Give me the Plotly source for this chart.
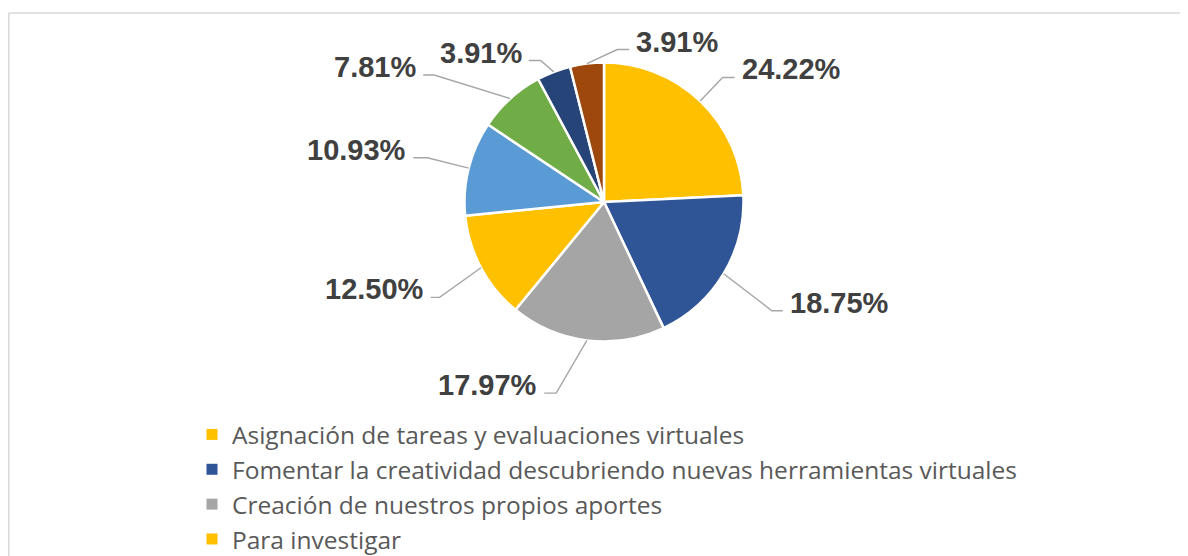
import math
import plotly.graph_objects as go

# ---- data ----
labels = [
    "Asignación de tareas y evaluaciones virtuales",
    "Fomentar la creatividad descubriendo nuevas herramientas virtuales",
    "Creación de nuestros propios aportes",
    "Para investigar",
    "Comunicación con docentes",
    "Trabajo colaborativo",
    "Entretenimiento",
    "Otros",
]
values = [24.22, 18.75, 17.97, 12.50, 10.93, 7.81, 3.91, 3.91]
colors = ["#FFC000", "#2F5597", "#A5A5A5", "#FFC000", "#5B9BD5", "#70AD47", "#264478", "#9E480E"]
legend_shown = 4  # only first four legend entries are visible in the frame

# ---- geometry / style ----
W, H = 1188, 556
OFF = 8  # default page body margin
CX, CY, R = 604, 202, 139.5
knee_r = [172, 200, 197, 190, 182, 212, 155, 153]
knee_da = [0, 2, 7, -2, 0, -11, -3, 12]
hseg = [12, 11, 12, 9, 14, 11, 12, 12]
tgap = 5

def px(x):
    return (x - OFF) / W

def py(y):
    return 1 - (y - OFF) / H

fig = go.Figure()
fig.add_trace(go.Pie(
    labels=labels, values=values, sort=False, direction="clockwise", rotation=0,
    marker=dict(colors=colors, line=dict(color="white", width=2.5)),
    textinfo="none", hoverinfo="label+percent", showlegend=False,
    domain=dict(x=[px(CX - R), px(CX + R)], y=[py(CY + R), py(CY - R)]),
))

# legend entries (dummy traces)
for name, col in zip(labels[:legend_shown], colors[:legend_shown]):
    fig.add_trace(go.Scatter(x=[None], y=[None], mode="markers", name=name,
                             marker=dict(symbol="square", size=11, color=col)))

total = sum(values)
cum = 0
annotations = []
shapes = []
for i, v in enumerate(values):
    mid = (cum + v / 2) / total * 360
    cum += v
    a = math.radians(mid)
    sx, sy = CX + R * math.sin(a), CY - R * math.cos(a)
    ka = math.radians(mid + knee_da[i])
    kx, ky = CX + knee_r[i] * math.sin(ka), CY - knee_r[i] * math.cos(ka)
    right = math.sin(ka) > 0
    ex = kx + hseg[i] if right else kx - hseg[i]
    shapes.append(dict(type="path", xref="paper", yref="paper",
                       path=f"M {px(sx)},{py(sy)} L {px(kx)},{py(ky)} L {px(ex)},{py(ky)}",
                       line=dict(color="#A6A6A6", width=1.4)))
    annotations.append(dict(
        x=px(ex + tgap if right else ex - tgap), y=py(ky - 8),
        xref="paper", yref="paper", xanchor="left" if right else "right", yanchor="middle",
        text=f"<b>{v:.2f}%</b>", showarrow=False,
        font=dict(family="Liberation Sans, Arial", size=29, color="#404040")))

# chart-area border (left and top edges visible)
bx = OFF + 0.8
shapes.append(dict(type="line", xref="paper", yref="paper", x0=px(bx), x1=px(bx), y0=py(13), y1=py(H + 20),
                   line=dict(color="#D9D9D9", width=1.5)))
shapes.append(dict(type="line", xref="paper", yref="paper", x0=px(bx), x1=px(W + 20), y0=py(13), y1=py(13),
                   line=dict(color="#D9D9D9", width=1.5)))

fig.update_layout(
    width=W, height=H, margin=dict(l=0, r=0, t=0, b=0),
    paper_bgcolor="white", plot_bgcolor="white",
    xaxis=dict(visible=False), yaxis=dict(visible=False),
    shapes=shapes, annotations=annotations,
    showlegend=True,
    legend=dict(x=px(192), y=py(412), xanchor="left", yanchor="top", orientation="v",
                font=dict(family="Open Sans", size=24.5, color="#595959"),
                bgcolor="rgba(0,0,0,0)", itemclick=False),
)
fig.write_html("out.html", config={"displayModeBar": False})
